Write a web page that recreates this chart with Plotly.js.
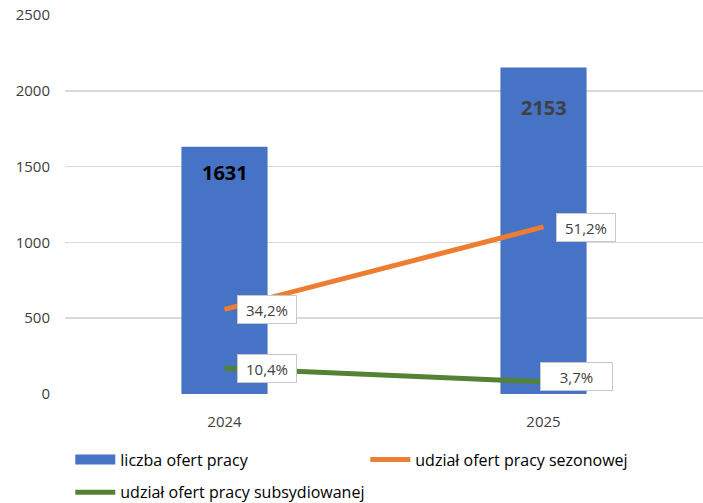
<!DOCTYPE html>
<html>
<head>
<meta charset="utf-8">
<script src="https://cdn.plot.ly/plotly-3.0.1.min.js"></script>
<style>html,body{margin:0;padding:0;background:#fff;}#chart{width:703px;height:503px;}</style>
</head>
<body>
<div id="chart"></div>
<script>
// ---- data ----
var years = ['2024', '2025'];
var offerCounts = [1631, 2153];
var seasonalCounts = [558, 1102];
var subsidizedCounts = [170, 80];
var seasonalLabels = ['34,2%', '51,2%'];
var subsidizedLabels = ['10,4%', '3,7%'];
var seriesNames = ['liczba ofert pracy', 'udział ofert pracy sezonowej', 'udział ofert pracy subsydiowanej'];
var yTicks = [0, 500, 1000, 1500, 2000, 2500];

// ---- styles ----
var FONT = 'Open Sans, Noto Sans, sans-serif';
var BLUE = '#4673C6', ORANGE = '#ED7D31', GREEN = '#548235';
var barLabelShift = [-26, -40];
var barLabelColor = ['#000000', '#404040'];
var seasonalShift = [{x: 12, y: 0, w: 58}, {x: 12, y: -1, w: 58}];
var subsidizedShift = [{x: 12, y: 0, w: 58}, {x: -4, y: 5, w: 71}];

var traces = [
  {type: 'bar', x: years, y: offerCounts, name: seriesNames[0], width: 0.27,
   marker: {color: BLUE, line: {width: 0}}, showlegend: false, hoverinfo: 'skip'},
  {type: 'scatter', mode: 'lines', x: years, y: [null, null], name: seriesNames[0],
   line: {color: BLUE, width: 10}, legend: 'legend', hoverinfo: 'skip'},
  {type: 'scatter', mode: 'lines', x: years, y: seasonalCounts, name: seriesNames[1],
   line: {color: ORANGE, width: 5}, legend: 'legend', hoverinfo: 'skip'},
  {type: 'scatter', mode: 'lines', x: years, y: subsidizedCounts, name: seriesNames[2],
   line: {color: GREEN, width: 5}, legend: 'legend2', hoverinfo: 'skip'}
];

var annotations = [];
years.forEach(function (yr, i) {
  // category index i addresses the category years[i] on the category axis
  annotations.push({x: i, y: offerCounts[i], text: '<b>' + offerCounts[i] + '</b>', showarrow: false,
    yanchor: 'middle', yshift: barLabelShift[i], font: {family: FONT, size: 20, color: barLabelColor[i]}});
  annotations.push({x: i, y: seasonalCounts[i], text: seasonalLabels[i], showarrow: false,
    xanchor: 'left', yanchor: 'middle', xshift: seasonalShift[i].x, yshift: seasonalShift[i].y,
    width: seasonalShift[i].w, height: 27, bgcolor: '#ffffff', bordercolor: '#c8c8c8', borderwidth: 1, borderpad: 0,
    font: {family: FONT, size: 15, color: '#404040'}});
  annotations.push({x: i, y: subsidizedCounts[i], text: subsidizedLabels[i], showarrow: false,
    xanchor: 'left', yanchor: 'middle', xshift: subsidizedShift[i].x, yshift: subsidizedShift[i].y,
    width: subsidizedShift[i].w, height: 27, bgcolor: '#ffffff', bordercolor: '#c8c8c8', borderwidth: 1, borderpad: 0,
    font: {family: FONT, size: 15, color: '#404040'}});
});

var layout = {
  width: 703, height: 503,
  margin: {l: 65, r: 0, t: 15, b: 109},
  paper_bgcolor: '#ffffff', plot_bgcolor: '#ffffff',
  font: {family: FONT, size: 14, color: '#404040'},
  xaxis: {type: 'category', categoryarray: years, categoryorder: 'array', range: [-0.5, 1.5],
    showgrid: false, zeroline: false, showline: false, ticks: '',
    tickfont: {family: FONT, size: 15, color: '#404040'}, ticklabelstandoff: 17, fixedrange: true},
  yaxis: {range: [0, 2500], tickvals: yTicks, showgrid: true, gridcolor: '#d9d9d9', gridwidth: 1.5,
    zeroline: false, showline: false, ticks: '', tickfont: {family: FONT, size: 15, color: '#404040'},
    ticklabelstandoff: 14, fixedrange: true},
  showlegend: true,
  legend: {orientation: 'h', xref: 'container', yref: 'container', x: 0.1, y: 0.12, xanchor: 'left', yanchor: 'top',
    entrywidthmode: 'pixels', entrywidth: 240, itemwidth: 40, font: {family: FONT, size: 16, color: '#000000'},
    bgcolor: 'rgba(0,0,0,0)', traceorder: 'normal'},
  legend2: {orientation: 'h', xref: 'container', yref: 'container', x: 0.1, y: 0.055, xanchor: 'left', yanchor: 'top',
    itemwidth: 40, font: {family: FONT, size: 16, color: '#000000'}, bgcolor: 'rgba(0,0,0,0)'},
  annotations: annotations
};

Plotly.newPlot('chart', traces, layout, {displayModeBar: false, staticPlot: true});
</script>
</body>
</html>
